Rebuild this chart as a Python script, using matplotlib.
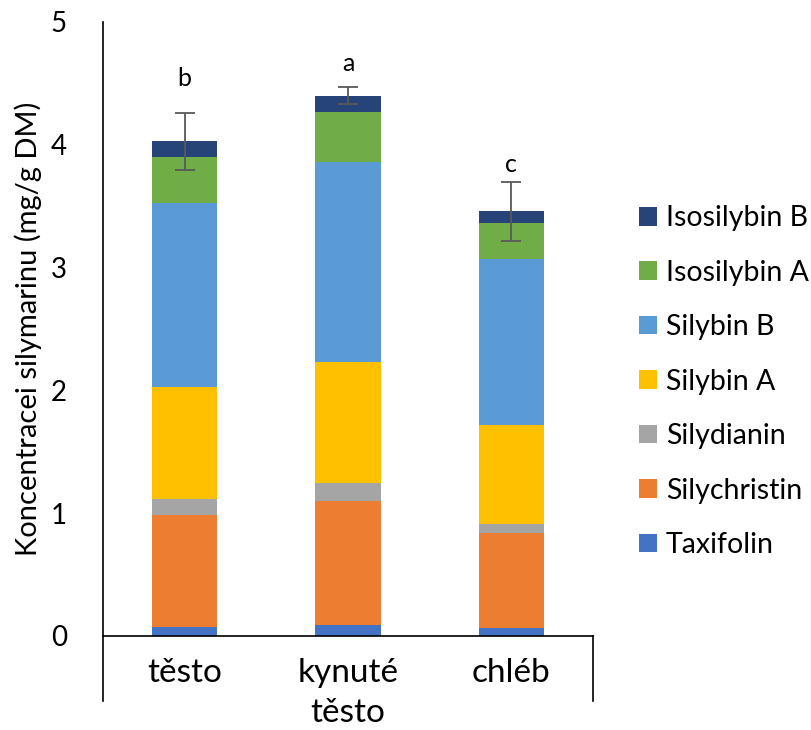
import matplotlib.pyplot as plt
import numpy as np

plt.rcParams["font.family"] = ["Lato", "DejaVu Sans"]

SAMPLES = ["těsto", "kynuté\ntěsto", "chléb"]
COMPOUNDS = ["Taxifolin", "Silychristin", "Silydianin", "Silybin A",
             "Silybin B", "Isosilybin A", "Isosilybin B"]
COLOURS = ["#4472C4", "#ED7D31", "#A5A5A5", "#FFC000",
           "#5B9BD5", "#70AD47", "#264478"]

# mg/g DM, one list per compound, order follows SAMPLES
taxifolin = [0.071, 0.087, 0.065]
silychristin = [0.912, 1.010, 0.771]
silydianin = [0.130, 0.147, 0.076]
silybin_a = [0.917, 0.988, 0.806]
silybin_b = [1.498, 1.626, 1.350]
isosilybin_a = [0.375, 0.410, 0.293]
isosilybin_b = [0.125, 0.130, 0.098]

total_err = [0.233, 0.070, 0.239]
letters = ["b", "a", "c"]
letter_y = [4.54, 4.66, 3.84]

series = [taxifolin, silychristin, silydianin, silybin_a,
          silybin_b, isosilybin_a, isosilybin_b]

fig = plt.figure(figsize=(8.12, 7.30), dpi=100)
ax = fig.add_axes([0.1268, 0.1288, 0.6035, 0.8411])

x = np.arange(len(SAMPLES))
bottom = np.zeros(len(SAMPLES))
handles = []
for name, vals, col in zip(COMPOUNDS, series, COLOURS):
    h = ax.bar(x, vals, width=0.4, bottom=bottom, color=col, label=name, zorder=2)
    handles.append(h)
    bottom += np.array(vals)

ax.errorbar(x, bottom, yerr=total_err, fmt="none", ecolor="#595959",
            elinewidth=1.3, capsize=7, capthick=1.3, zorder=3)

for xi, lab, ly in zip(x, letters, letter_y):
    ax.text(xi, ly, lab, ha="center", va="center", fontsize=18)

ax.set_xlim(-0.5, 2.5)
ax.set_ylim(0, 5)
ax.set_yticks([0, 1, 2, 3, 4, 5])
ax.set_xticks(x)
ax.set_xticklabels(SAMPLES, fontsize=24, linespacing=1.4)
ax.tick_params(axis="y", length=0, pad=26, labelsize=20)
ax.tick_params(axis="x", length=0, pad=16)
ax.set_ylabel("Koncentracei silymarinu (mg/g DM)", fontsize=21, labelpad=6)

for side in ["top", "right", "left"]:
    ax.spines[side].set_visible(False)
ax.spines["bottom"].set_linewidth(1.2)

# value axis line runs down past zero, plus closing tick at the right end
ax.plot([-0.5, -0.5], [5, -0.53], color="black", lw=1.2, clip_on=False)
ax.plot([2.5, 2.5], [0, -0.53], color="black", lw=1.2, clip_on=False)

leg = fig.legend(handles[::-1], COMPOUNDS[::-1], loc="upper left",
                 bbox_to_anchor=(0.756, 0.754), frameon=False, fontsize=20.5,
                 handlelength=0.63, handleheight=0.63, handletextpad=0.3,
                 labelspacing=1.0)

fig.savefig("out.png", dpi=100)
